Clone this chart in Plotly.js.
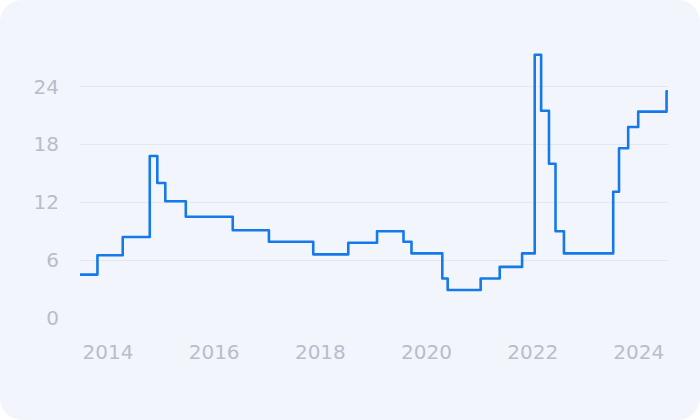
<!DOCTYPE html>
<html>
<head>
<meta charset="utf-8">
<script src="https://cdn.plot.ly/plotly-3.0.1.min.js"></script>
<style>
  html, body { margin: 0; padding: 0; background: #ffffff; }
  #chart { width: 700px; height: 420px; background: #f3f5fc; border-radius: 22px; overflow: hidden; }
  #chart .scatterlayer path.js-line { stroke-linejoin: round !important; stroke-linecap: round !important; }
</style>
</head>
<body>
<div id="chart"></div>
<script>
// Step changes: date when the level changes, and the new level
const changeDates = [
  '2013-06-22', '2013-10-20', '2014-04-12', '2014-10-15', '2014-12-06',
  '2015-01-30', '2015-06-20', '2016-05-08', '2017-01-12', '2017-11-13',
  '2018-07-12', '2019-01-26', '2019-07-27', '2019-09-20', '2020-04-19',
  '2020-05-26', '2021-01-08', '2021-05-19', '2021-10-20', '2022-01-15',
  '2022-02-28', '2022-04-23', '2022-06-07', '2022-08-04', '2023-07-09',
  '2023-08-18', '2023-10-20', '2023-12-28', '2024-07-10', '2024-07-14'
];
const levels = [
  4.5, 6.5, 8.4, 16.8, 14.0,
  12.1, 10.5, 9.1, 7.9, 6.6,
  7.8, 9.0, 7.9, 6.7, 4.1,
  2.9, 4.1, 5.3, 6.7, 27.3,
  21.5, 16.0, 9.0, 6.7, 13.1,
  17.6, 19.8, 21.4, 23.5, 23.5
];

const yTicks = [0, 6, 12, 18, 24];
const xTickDates = ['2014-01-01', '2016-01-01', '2018-01-01', '2020-01-01', '2022-01-01', '2024-01-01'];
const xTickLabels = ['2014', '2016', '2018', '2020', '2022', '2024'];

const trace = {
  x: changeDates, y: levels, type: 'scatter', mode: 'lines',
  line: { color: '#1579ea', width: 2.6, shape: 'hv' },
  hoverinfo: 'skip'
};

const font = { family: '"DejaVu Sans", sans-serif', size: 20, color: '#b8bdcb' };

const layout = {
  width: 700, height: 420,
  margin: { l: 80, r: 32, t: 48, b: 102 },
  paper_bgcolor: 'rgba(0,0,0,0)',
  plot_bgcolor: 'rgba(0,0,0,0)',
  showlegend: false,
  font: font,
  xaxis: {
    type: 'date',
    range: ['2013-06-22', '2024-07-20'],
    tickvals: xTickDates, ticktext: xTickLabels,
    showgrid: false, zeroline: false, showline: false,
    ticks: '', ticklabelstandoff: 20,
    tickfont: font
  },
  yaxis: {
    range: [0, 28],
    tickvals: yTicks,
    showgrid: true, gridcolor: '#e4e7f0', gridwidth: 1,
    zeroline: false, showline: false,
    ticks: '', ticklabelstandoff: 20,
    tickfont: font
  }
};

Plotly.newPlot('chart', [trace], layout, { staticPlot: true, displayModeBar: false });
</script>
</body>
</html>
